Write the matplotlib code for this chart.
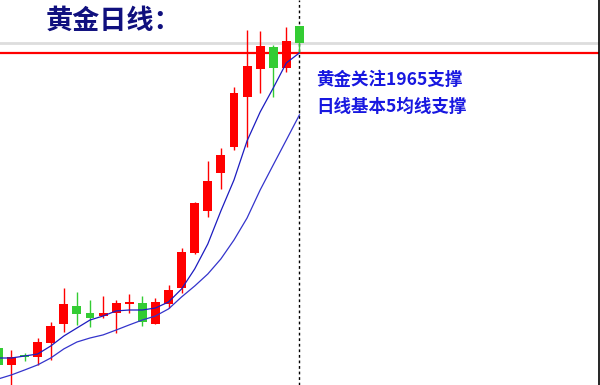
import numpy as np
import matplotlib.pyplot as plt

plt.rcParams['font.family'] = ['Noto Sans CJK SC', 'DejaVu Sans']

# daily candles (open, high, low, close), oldest first
opens = [1829.6, 1820.3, 1825.8, 1824.7, 1832.4, 1842.8, 1852.7, 1848.9, 1847.2, 1848.9,
         1853.8, 1854.4, 1842.8, 1853.8, 1862.6, 1881.9, 1905.0, 1925.9, 1940.2, 1967.7,
         1983.1, 1995.2, 1983.6, 2006.7]
highs = [1831.8, 1828.5, 1826.9, 1835.1, 1843.9, 1862.6, 1860.4, 1856.0, 1858.2, 1856.0,
         1859.3, 1858.2, 1857.1, 1864.3, 1884.6, 1909.9, 1932.5, 1939.6, 1973.2, 2004.5,
         2004.0, 1996.3, 2006.2, 2006.7]
lows = [1818.6, 1809.3, 1822.5, 1820.3, 1823.0, 1838.4, 1842.3, 1841.2, 1846.1, 1837.9,
        1848.9, 1841.7, 1842.8, 1851.6, 1859.9, 1881.3, 1901.7, 1917.1, 1938.5, 1940.2,
        1969.9, 1967.7, 1981.4, 1991.9]
closes = [1820.3, 1824.7, 1824.7, 1832.9, 1841.7, 1853.8, 1848.3, 1846.1, 1848.9, 1854.4,
          1854.9, 1843.9, 1854.9, 1861.5, 1882.4, 1909.4, 1921.5, 1935.8, 1969.9, 1984.7,
          1995.7, 1983.6, 1998.5, 1997.4]

# moving averages
ma_fast = [1824.1, 1824.1, 1825.2, 1826.3, 1830.7, 1836.2, 1840.6, 1845.0, 1847.2, 1850.0,
           1850.5, 1850.5, 1851.6, 1854.9, 1862.1, 1873.1, 1886.8, 1905.0, 1922.0, 1943.5,
           1959.4, 1972.6, 1986.4, 1991.9]
ma_slow = [1812.6, 1814.8, 1817.5, 1820.3, 1824.1, 1829.1, 1832.9, 1835.1, 1836.8, 1839.5,
           1842.3, 1845.0, 1847.2, 1851.1, 1857.7, 1863.7, 1870.3, 1878.6, 1889.0, 1901.1,
           1916.5, 1930.3, 1944.0, 1957.8]

support_level = 1991.6
last_price = 1997.4

fig = plt.figure(figsize=(6, 3.85), dpi=100)
ax = fig.add_axes([0, 0, 599 / 600, 1])

x = np.arange(len(opens))
o = np.array(opens)
c = np.array(closes)
up = c >= o
colors = np.where(up, '#ff0000', '#33cc33')

ax.axhline(last_price, color='#dddddd', lw=2, zorder=1)
ax.axhline(support_level, color='#ff0000', lw=1.6, zorder=1)

# dotted marker on the latest bar, behind the candles
ax.axvline(x[-1], color='black', lw=1, ls=(0, (2, 2)), zorder=1.5)

ax.vlines(x, lows, highs, colors=colors, lw=1, zorder=2)
ax.bar(x, np.maximum(np.abs(c - o), 0.6), bottom=np.minimum(o, c), width=0.68,
       color=colors, zorder=3)

ax.plot(x, ma_fast, color='#1c1cc0', lw=0.9, zorder=4)
ax.plot(x, ma_slow, color='#3434cc', lw=0.9, zorder=4)

ax.set_xlim(0.123, 45.89)
ax.set_ylim(1809.25, 2021)
ax.set_xticks([])
ax.set_yticks([])
for side in ['top', 'left', 'bottom']:
    ax.spines[side].set_visible(False)
ax.spines['right'].set_color('black')
ax.spines['right'].set_linewidth(1.2)

fig.text(46 / 600, 1 - 21 / 385, '黄金日线：', fontsize=19.5, fontweight='bold',
         color='#10107e', va='center', ha='left')
fig.text(316 / 600, 1 - 80 / 385, '黄金关注1965支撑', fontsize=12.6, fontweight='bold',
         color='#1818e0', va='center', ha='left')
fig.text(316 / 600, 1 - 107 / 385, '日线基本5均线支撑', fontsize=12.6, fontweight='bold',
         color='#1818e0', va='center', ha='left')

fig.savefig('out.png', dpi=100)
